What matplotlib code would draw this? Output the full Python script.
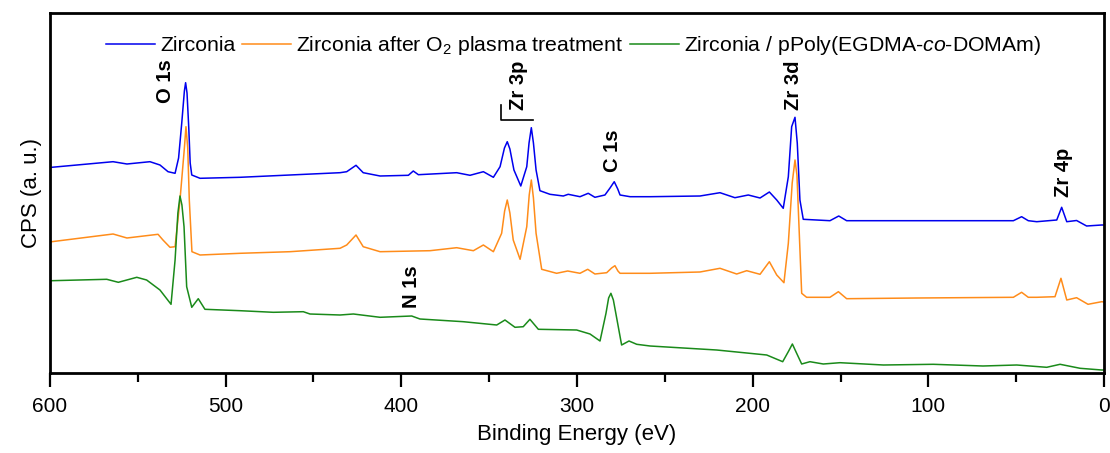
import matplotlib
matplotlib.use('Agg')
import matplotlib.pyplot as plt
import numpy as np

# binding energy (eV) / intensity (a.u., stacked as shown)
be_zr = [600, 599.0, 564.1, 556.2, 543.1, 537.4, 532.8, 528.8, 526.8, 525.0, 523.5, 522.8, 522.0,
         521.0, 520.2, 519.3, 514.6, 491.8, 463.4, 434.9, 431.1, 425.8, 421.7, 412.1, 396.0,
         393.2, 390.3, 368.5, 360.9, 353.3, 347.6, 343.8, 341.3, 339.7, 338.2, 335.9, 332.0,
         328.6, 327.3, 326.0, 324.8, 323.3, 321.1, 315.4, 307.8, 305.0, 298.3, 293.6, 289.8,
         284.1, 281.2, 278.8, 276.8, 275.5, 269.8, 258.4, 230.0, 218.6, 210.1, 202.5, 195.8,
         190.5, 186.3, 182.6, 179.7, 177.8, 175.9, 174.6, 173.1, 171.2, 156.0, 151.0, 146.5,
         106.6, 51.6, 46.9, 43.1, 38.3, 26.9, 24.1, 21.2, 15.6, 9.9, 1.3, 0]
i_zr = [205.5, 205.7, 211.3, 209, 211.3, 208, 201.3, 199.7, 215, 250, 282, 290.3, 280,
        245, 210, 198, 194.7, 195.7, 198, 200.3, 201.3, 207.7, 200.3, 197, 197.7,
        202, 198.3, 200.3, 197.7, 201.3, 195.7, 206.3, 225, 231.3, 224, 203, 187,
        206.3, 230, 245.3, 230, 203, 182.3, 178.7, 177, 178.7, 176.3, 179.7, 175.7,
        178, 185, 191.3, 184, 178, 176.3, 176.3, 177, 180.3, 175.3, 178, 175,
        181, 173, 164.7, 196.3, 246.3, 255.7, 229.7, 173, 153.7, 152.3, 157, 152.3,
        152.3, 152.3, 156.3, 152.3, 151.3, 153, 165.7, 151.3, 152.5, 147, 148, 148]

be_o2 = [600, 599.0, 564.1, 556.2, 538.5, 535.7, 531.7, 528.8, 526.0, 523.5, 522.6, 521.6,
         520.7, 519.2, 514.6, 491.8, 463.4, 434.9, 431.1, 425.8, 421.7, 412.1, 383.7, 368.5,
         359.0, 353.3, 347.6, 342.9, 341.2, 339.7, 338.2, 336.3, 332.4, 328.6, 327.2, 326.0,
         324.8, 323.3, 320.1, 311.6, 305.3, 298.3, 293.9, 289.8, 283.1, 280.3, 278.4, 276.7,
         275.5, 258.4, 230.0, 218.6, 209.1, 203.4, 195.8, 190.5, 186.3, 182.2, 179.7, 177.5,
         175.9, 174.8, 174.0, 172.1, 169.3, 156.0, 151.2, 146.5, 106.6, 51.6, 46.9, 43.1,
         38.3, 27.9, 24.5, 21.2, 15.6, 9.1, 1.3, 0]
i_o2 = [131, 131.3, 139, 135, 138.7, 133, 125.7, 126.3, 173, 225, 246.3, 225,
        173, 121.3, 118, 119.7, 121.3, 124.7, 128, 138, 126.3, 121.3, 122.3, 125.3,
        122.3, 128, 121.3, 139.7, 162, 173, 160, 133, 113.7, 146.3, 178, 193,
        175, 139.7, 103.7, 99.7, 102, 99.7, 103.7, 99, 100.3, 105, 107.3, 102,
        99.7, 99.7, 101, 104.7, 99, 102.3, 98.7, 111.3, 98, 90.3, 129.7, 190,
        213, 198, 163, 79.7, 75.7, 75.7, 81.3, 74.3, 75, 75.7, 80.7, 75.7,
        75.7, 76.3, 94.7, 73, 75.3, 68.7, 71.3, 71]

be_poly = [600, 599.0, 567.7, 561.1, 550.6, 545.0, 537.4, 531.1, 528.8, 527.2, 526.0, 524.9,
           523.7, 522.2, 519.3, 515.6, 511.8, 491.8, 472.9, 455.8, 452.0, 434.9, 427.3, 412.1,
           394.1, 389.4, 364.7, 345.7, 341.0, 335.3, 330.6, 326.8, 322.0, 300.2, 292.6, 286.9,
           283.5, 282.0, 280.7, 279.3, 277.9, 274.6, 270.4, 266.0, 258.4, 220.5, 192.0, 182.9,
           179.5, 177.4, 175.3, 172.1, 167.4, 159.8, 150.3, 125.6, 97.2, 68.9, 49.7, 32.6,
           25.0, 13.6, 1.3, 0]
i_poly = [92, 92.3, 93.7, 90.7, 95.7, 93, 83, 68.7, 113, 160, 177, 168,
          146.3, 86.3, 65.7, 74.3, 63.7, 62.3, 60.7, 61.3, 59, 58, 59, 55.7,
          57, 54, 51.3, 48, 53, 45.7, 46.3, 53.7, 43.7, 43, 39, 32,
          59.7, 75, 79.7, 73, 59.7, 28, 32, 28.7, 27, 23, 18, 11.3,
          22, 29, 21, 9, 11.3, 9, 10.3, 8, 8.7, 7, 8, 5.7,
          8.7, 4.7, 3, 3]

series_labels = ['Zirconia',
                 'Zirconia after O$_2$ plasma treatment',
                 'Zirconia / pPoly(EGDMA-$\\it{co}$-DOMAm)']

peak_names = ['O 1s', 'Zr 3p', 'C 1s', 'N 1s', 'Zr 3d', 'Zr 4p']
peak_be = [534.5, 333.5, 279.7, 394.3, 176.9, 23.2]
peak_y = [270, 263, 201, 65, 263, 176]


plt.rcParams['font.family'] = ['Liberation Sans', 'DejaVu Sans']
plt.rcParams['mathtext.fontset'] = 'custom'
plt.rcParams['mathtext.rm'] = 'Liberation Sans'
plt.rcParams['mathtext.it'] = 'Liberation Sans:italic'

fig = plt.figure(figsize=(11.1, 4.53), dpi=100)
ax = fig.add_axes([50/1110, 80/453, 1054/1110, 360/453])

colors = ['#0000ee', '#ff8c1a', '#1a8a1a']
for be, ii, c, lab in zip([be_zr, be_o2, be_poly], [i_zr, i_o2, i_poly], colors, series_labels):
    ax.plot(be, ii, color=c, lw=1.1, label=lab)

for name, x, y in zip(peak_names, peak_be, peak_y):
    ax.text(x, y, name, rotation=90, ha='center', va='bottom',
            fontsize=14.5, fontweight='bold')

# bracket under the Zr 3p doublet
ax.plot([343, 343, 325], [268, 253.5, 253.5], color='black', lw=1.2)

ax.set_xlim(600, 0)
ax.set_ylim(0, 360)
ax.set_yticks([])
ax.set_xticks(np.arange(600, -1, -100))
ax.set_xticks(np.arange(550, 0, -100), minor=True)
ax.tick_params(axis='x', which='major', direction='out', length=10, width=1.6,
               labelsize=15, pad=7)
ax.tick_params(axis='x', which='minor', direction='out', length=6.5, width=1.6)
for s in ax.spines.values():
    s.set_linewidth(2)

ax.set_xlabel('Binding Energy (eV)', fontsize=16, labelpad=6)
ax.set_ylabel('CPS (a. u.)', fontsize=16, labelpad=6)

ax.legend(loc='upper center', bbox_to_anchor=(0.497, 1.0), ncol=3, frameon=False,
          fontsize=15.3, handlelength=2.3, handletextpad=0.25, columnspacing=0.3,
          borderaxespad=0.6)

fig.savefig('out.png', dpi=100)
